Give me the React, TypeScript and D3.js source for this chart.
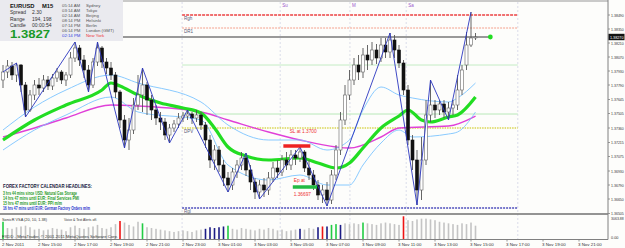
import React from 'react';
import * as d3 from 'd3';

// ---------- DATA ----------
const open = [
  1.3784,1.3792,1.3798,1.3789,1.3799,1.3779,1.3754,1.3769,1.3779,1.3776,
  1.3784,1.3778,1.3786,1.3792,1.3784,1.3789,1.3806,1.3816,1.3804,1.3794,
  1.3779,1.3802,1.3816,1.3802,1.3796,1.3789,1.3772,1.3744,1.3724,1.3734,
  1.3759,1.3769,1.3779,1.3764,1.3754,1.3746,1.3742,1.3729,1.3736,1.3740,
  1.3746,1.3748,1.3750,1.3746,1.3749,1.3739,1.3724,1.3704,1.3714,1.3699,
  1.3686,1.3679,1.3692,1.3699,1.3706,1.3694,1.3682,1.3672,1.3679,1.3674,
  1.3686,1.3696,1.3692,1.3704,1.3699,1.3709,1.3706,1.3712,1.3696,1.3689,
  1.3679,1.3669,1.3674,1.3664,1.3689,1.3714,1.3744,1.3769,1.3784,1.3799,
  1.3792,1.3809,1.3804,1.3814,1.3806,1.3819,1.3812,1.3824,1.3814,1.3801,
  1.3774,1.3724,1.3704,1.3674,1.3704,1.3749,1.3759,1.3754,1.3760,1.3752,
  1.3756,1.3759,1.3774,1.3799,1.3819,1.3826,
];
const close = [
  1.3792,1.3798,1.3789,1.3799,1.3779,1.3754,1.3769,1.3779,1.3776,1.3784,
  1.3778,1.3786,1.3792,1.3784,1.3789,1.3806,1.3816,1.3804,1.3794,1.3779,
  1.3802,1.3816,1.3802,1.3796,1.3789,1.3772,1.3744,1.3724,1.3734,1.3759,
  1.3769,1.3779,1.3764,1.3754,1.3746,1.3742,1.3729,1.3736,1.3740,1.3746,
  1.3748,1.3750,1.3746,1.3749,1.3739,1.3724,1.3704,1.3714,1.3699,1.3686,
  1.3679,1.3692,1.3699,1.3706,1.3694,1.3682,1.3672,1.3679,1.3674,1.3686,
  1.3696,1.3692,1.3704,1.3699,1.3709,1.3706,1.3712,1.3696,1.3689,1.3679,
  1.3669,1.3674,1.3664,1.3689,1.3714,1.3744,1.3769,1.3784,1.3799,1.3792,
  1.3809,1.3804,1.3814,1.3806,1.3819,1.3812,1.3824,1.3814,1.3801,1.3774,
  1.3724,1.3704,1.3674,1.3704,1.3749,1.3759,1.3754,1.3760,1.3752,1.3756,
  1.3759,1.3774,1.3794,1.3819,1.3826,1.3827,
];
const high = [
  1.3799,1.3804,1.3802,1.3801,1.3800,1.3782,1.3774,1.3784,1.3786,1.3789,
  1.3788,1.3790,1.3796,1.3794,1.3792,1.3812,1.3822,1.3819,1.3809,1.3799,
  1.3806,1.3822,1.3818,1.3806,1.3802,1.3792,1.3774,1.3749,1.3746,1.3766,
  1.3789,1.3796,1.3782,1.3769,1.3759,1.3752,1.3746,1.3740,1.3744,1.3751,
  1.3752,1.3754,1.3752,1.3754,1.3752,1.3742,1.3729,1.3719,1.3718,1.3704,
  1.3692,1.3696,1.3704,1.3712,1.3711,1.3699,1.3686,1.3684,1.3686,1.3692,
  1.3702,1.3704,1.3709,1.3712,1.3714,1.3714,1.3717,1.3714,1.3704,1.3694,
  1.3684,1.3679,1.3682,1.3694,1.3719,1.3752,1.3779,1.3794,1.3806,1.3809,
  1.3816,1.3819,1.3822,1.3820,1.3826,1.3826,1.3831,1.3829,1.3819,1.3804,
  1.3779,1.3729,1.3714,1.3727,1.3764,1.3784,1.3764,1.3764,1.3764,1.3762,
  1.3764,1.3789,1.3799,1.3832,1.3852,1.3831,
];
const low = [
  1.3776,1.3786,1.3784,1.3782,1.3772,1.3747,1.3752,1.3764,1.3769,1.3772,
  1.3774,1.3774,1.3782,1.3780,1.3778,1.3786,1.3802,1.3798,1.3786,1.3772,
  1.3776,1.3798,1.3796,1.3790,1.3784,1.3766,1.3736,1.3716,1.3714,1.3730,
  1.3754,1.3752,1.3749,1.3744,1.3739,1.3734,1.3724,1.3721,1.3732,1.3736,
  1.3742,1.3744,1.3740,1.3742,1.3734,1.3716,1.3696,1.3694,1.3692,1.3678,
  1.3672,1.3674,1.3686,1.3694,1.3688,1.3674,1.3665,1.3665,1.3667,1.3669,
  1.3682,1.3686,1.3688,1.3694,1.3694,1.3699,1.3702,1.3692,1.3684,1.3674,
  1.3664,1.3661,1.3658,1.3660,1.3684,1.3709,1.3739,1.3764,1.3779,1.3784,
  1.3786,1.3794,1.3799,1.3800,1.3802,1.3806,1.3806,1.3806,1.3796,1.3769,
  1.3719,1.3694,1.3659,1.3664,1.3699,1.3742,1.3746,1.3749,1.3746,1.3744,
  1.3749,1.3754,1.3769,1.3794,1.3817,1.3824,
];

const zigzagIdx = [0,3,5,16,19,21,27,31,37,41,50,54,57,66,72,86,92,95,99,104];
const zigzagVal = [1.3792,1.3801,1.3747,1.3822,1.3772,1.3822,1.3716,1.3796,1.3721,1.3754,1.3672,1.3711,1.3665,1.3717,1.3658,1.3831,1.3659,1.3784,1.3744,1.3852];

const maIdx = [0,7,14,22,24,26,30,35,40,44,47,50,54,59,66,70,74,77,80,84,88,90,93,95,99,101,105];
const maGreen = [1.3724,1.3744,1.3759,1.3774,1.3781,1.3778,1.3769,1.3761,1.3756,1.3751,1.3736,1.3717,1.3708,1.3704,1.3706,1.3701,1.3696,1.3701,1.3716,1.3736,1.3748,1.3754,1.3744,1.3742,1.3747,1.3749,1.3767];

const bandIdx = [0,7,14,24,30,44,50,59,66,72,77,80,84,88,91,99,101,105];
const bandUpper = [1.3734,1.3757,1.3774,1.3789,1.3781,1.3762,1.3739,1.3724,1.3724,1.3714,1.3724,1.3754,1.3777,1.3769,1.3766,1.3762,1.3766,1.3781];
const bandLower = [1.3714,1.3734,1.3749,1.3767,1.3752,1.3744,1.3699,1.3684,1.3689,1.3679,1.3679,1.3699,1.3721,1.3734,1.3727,1.3730,1.3732,1.3752];

const magIdx = [0,7,14,24,30,44,50,59,66,74,77,84,88,99,105];
const maMagenta = [1.3727,1.3736,1.3746,1.3759,1.3758,1.3752,1.3744,1.3732,1.3724,1.3717,1.3716,1.3727,1.3736,1.3738,1.3748];

const volume = [
  2200,1400,1300,1500,1600,1700,1500,1200,1300,1100,1200,1400,1300,1200,1000,1500,1700,1400,1300,1500,
  1600,1800,1400,1300,1500,1900,2300,2100,1800,1600,2200,2000,1500,1400,1300,1200,
  1100,1000,900,1000,1100,1000,900,1100,1200,1300,1500,1400,1500,1600,1700,1300,1200,1400,1300,1200,
  1100,1300,1200,1400,1300,1100,1200,1000,1100,1200,1300,1200,1400,1300,1500,
  1600,1600,1800,1900,1800,2000,1900,2000,1900,2100,2000,1900,1800,2000,2100,2000,1900,1800,2900,2400,
  2300,2500,2600,2600,2500,2400,2200,2100,2000,1900,1800,2000,1900,2100,1700,
];
// g = grey, n = navy, G = green, r = red
const volColor = [
  'G','g','g','g','g','g','g','g','g','g','g','g','g','g','g','g','g','g','g','g',
  'g','g','g','g','g','g','r','g','g','g','g','G','g','g','g','g',
  'g','g','g','g','g','g','g','g','g','n','n','n','n','n','G','g','g','g','g','g',
  'g','g','g','g','g','g','g','g','g','g','n','g','g','g','n',
  'r','n','G','G','n','g','g','g','g','G','g','g','g','g','g','g','g','g','r','g',
  'g','g','g','g','g','g','g','g','g','g','g','g','g','g','g',
];

const priceTicks = [1.38490,1.38350,1.38210,1.38070,1.37930,1.37790,1.37645,1.37505,1.37360,1.37215,1.37075,1.36930,1.36790,1.36650,1.36505];
const timeIdx = [0,8,16,24,32,40,48,56,64,72,80,88,96,104,112,120,128];
const timeLabels = ['2 Nov 2011','2 Nov 15:00','2 Nov 17:00','2 Nov 19:00','2 Nov 21:00','2 Nov 23:00','3 Nov 01:00','3 Nov 03:00','3 Nov 05:00','3 Nov 07:00','3 Nov 09:00','3 Nov 11:00','3 Nov 13:00','3 Nov 15:00','3 Nov 17:00','3 Nov 19:00','3 Nov 21:00'];

const separatorIdx = [39.8, 61.6, 77.1, 89.6, 114.4];
const separatorLabels = ['', 'Su', 'M', 'Sa', ''];

const levelRgh = 1.3849;
const levelDR1 = 1.3836;
const bid = 1.3827;
const levelGreenHi = 1.3799;
const levelGreenLo = 1.3750;
const levelDPV = 1.3736;
const levelRgl = 1.3656;
const slBar = 1.3718;
const epBar = 1.3677;

const clockTimes = ['05:14 AM','03:14 AM','02:14 AM','08:14 PM','07:14 PM','06:14 PM','02:14 PM'];
const clockCities = ['Sydney','Tokyo','Beijing','Helsinki','Berlin','London (GMT)','New York'];

const headlines = [
  '3 hrs 44 mins since USD: Natural Gas Storage',
  '14 hrs 47 mins until EUR: Final Services PMI',
  '15 hrs 47 mins until EUR: PPI m/m',
  '16 hrs 47 mins until EUR: German Factory Orders m/m',
];
const headlineColors = ['#1f9a1f','#1f9a1f','#1f9a1f','#2233cc'];
const headlineWidths = [74, 76, 59, 87];

const FONT = '"Liberation Sans", Arial, sans-serif';

export default function App() {
  const x = d3.scaleLinear().domain([0, 105]).range([3, 475.5]);
  const y = d3.scaleLinear().domain([1.3652, 1.3849]).range([212, 15]);
  const vy = d3.scaleLinear().domain([0, 3063.88]).range([239, 215]);

  const lineIdx = (idx: number[], vals: number[], curve = d3.curveMonotoneX) =>
    d3.line<number>().x((_, k) => x(idx[k])).y((v) => y(v)).curve(curve)(vals) || '';

  const zig = d3.line<number>().x((_, k) => x(zigzagIdx[k])).y((v) => y(v))(zigzagVal) || '';

  const volColors: Record<string, string> = { g: '#c4c4c4', n: '#1c1c86', G: '#22cc44', r: '#ee1414' };

  const lvlX0 = x(separatorIdx[0]);
  const lvlX1 = x(separatorIdx[4]);

  return (
    <svg width={625} height={248} style={{ position: 'absolute', left: 0, top: 0, background: '#fdfdfb' }} fontFamily={FONT}>
      <rect x={0} y={0} width={625} height={248} fill="#fdfdfb" />
      {/* top border */}
      <line x1={0} x2={608} y1={1} y2={1} stroke="#b8b8b8" strokeWidth={1.5} />

      {/* vertical separators */}
      {separatorIdx.map((s, k) => (
        <g key={'sep' + k}>
          <line x1={x(s)} x2={x(s)} y1={2} y2={239} stroke="#cdd0e2" strokeWidth={0.7} strokeDasharray="2,2" />
          {separatorLabels[k] && (
            <text x={x(s) + 2} y={7} fontSize={4.5} fill="#9955cc">{separatorLabels[k]}</text>
          )}
        </g>
      ))}

      {/* horizontal levels */}
      <line x1={lvlX0} x2={lvlX1} y1={y(levelRgh)} y2={y(levelRgh)} stroke="#f07070" strokeWidth={1.8} strokeDasharray="3,1" />
      <text x={lvlX0 + 2} y={y(levelRgh) + 4.5} fontSize={4.5} fill="#555577">Rgh</text>
      <line x1={lvlX0} x2={lvlX1} y1={y(levelDR1)} y2={y(levelDR1)} stroke="#f4a08c" strokeWidth={1} strokeDasharray="2,1" />
      <text x={lvlX0 + 2} y={y(levelDR1) + 4.5} fontSize={4.5} fill="#555577">DR1</text>
      <line x1={lvlX0} x2={lvlX1} y1={y(levelGreenHi)} y2={y(levelGreenHi)} stroke="#c4ecc4" strokeWidth={1} />
      <line x1={lvlX0} x2={lvlX1} y1={y(levelGreenLo)} y2={y(levelGreenLo)} stroke="#b8e8b8" strokeWidth={1} />
      <line x1={lvlX0} x2={lvlX1} y1={y(levelDPV)} y2={y(levelDPV)} stroke="#c8c400" strokeWidth={1.2} strokeDasharray="1.5,1" />
      <text x={lvlX0 + 2} y={y(levelDPV) + 4.5} fontSize={4.5} fill="#555577">DPV</text>
      <line x1={lvlX0} x2={lvlX1} y1={y(levelRgl)} y2={y(levelRgl)} stroke="#7a7acc" strokeWidth={1.8} strokeDasharray="2,1" />
      <text x={lvlX0 + 2} y={y(levelRgl) + 4.5} fontSize={4.5} fill="#555577">Rgl</text>

      {/* bid line */}
      <line x1={0} x2={x(108.3)} y1={y(bid)} y2={y(bid)} stroke="#999999" strokeWidth={2} />
      <circle cx={x(108.3)} cy={y(bid)} r={2.4} fill="#22dd22" />

      {/* indicator lines */}
      <path d={lineIdx(magIdx, maMagenta)} fill="none" stroke="#e040d8" strokeWidth={1.4} />
      <path d={lineIdx(bandIdx, bandUpper)} fill="none" stroke="#7cc4ff" strokeWidth={0.9} />
      <path d={lineIdx(bandIdx, bandLower)} fill="none" stroke="#7cc4ff" strokeWidth={0.9} />
      <path d={lineIdx(maIdx, maGreen)} fill="none" stroke="#22dd22" strokeWidth={3.2} />

      {/* candles */}
      {open.map((o, i) => {
        const c = close[i];
        const bull = c >= o;
        const top = y(Math.max(o, c));
        const bot = y(Math.min(o, c));
        return (
          <g key={'c' + i}>
            <line x1={x(i)} x2={x(i)} y1={y(high[i])} y2={y(low[i])} stroke="#555" strokeWidth={0.9} />
            <rect x={x(i) - 1.5} y={top} width={3} height={Math.max(0.8, bot - top)}
              fill={bull ? '#ffffff' : '#111111'} stroke={bull ? '#666' : '#111'} strokeWidth={0.6} />
          </g>
        );
      })}

      {/* zigzag */}
      <path d={zig} fill="none" stroke="#2a36c0" strokeWidth={0.9} />

      {/* SL / Ep markers */}
      <line x1={x(62.3)} x2={x(68.3)} y1={y(slBar)} y2={y(slBar)} stroke="#ee2222" strokeWidth={3.5} />
      <text x={x(63.7)} y={y(1.3733) + 2} fontSize={4.8} fill="#ee3333">SL at 1.3700</text>
      <line x1={x(64.4)} x2={x(69.8)} y1={y(epBar)} y2={y(epBar)} stroke="#22bb44" strokeWidth={3.5} />
      <text x={x(64.6)} y={y(1.3684) + 2} fontSize={4.8} fill="#ee3333">Ep at</text>
      <text x={x(64.6)} y={y(1.3670) + 2} fontSize={4.8} fill="#ee3333">1.36697</text>

      {/* info box */}
      <rect x={0} y={0} width={123} height={41} fill="#eaeaef" />
      <text x={10} y={7.5} fontSize={5.8} fontWeight="bold" fill="#111">EURUSD</text>
      <text x={42} y={7.5} fontSize={5.8} fontWeight="bold" fill="#111">M15</text>
      <text x={10} y={14} fontSize={5} fill="#333">Spread</text>
      <text x={32} y={14} fontSize={5} fill="#333">2.30</text>
      <text x={10} y={20.5} fontSize={5} fill="#333">Range</text>
      <text x={32} y={20.5} fontSize={5} fill="#333">194, 198</text>
      <text x={10} y={26.5} fontSize={5} fill="#333">Candle</text>
      <text x={32} y={26.5} fontSize={5} fill="#333">00:00:54</text>
      <text x={10} y={38.3} fontSize={11.5} fontWeight="bold" fill="#1a9a28" textLength={40} lengthAdjust="spacingAndGlyphs">1.3827</text>
      {clockTimes.map((t, k) => (
        <g key={'clk' + k}>
          <text x={62} y={6.8 + k * 5.05} fontSize={4.3} fill={k === 6 ? '#3344dd' : '#555'}>{t}</text>
          <text x={86} y={6.8 + k * 5.05} fontSize={4.3} fill={k === 6 ? '#ee3333' : '#555'}>{clockCities[k]}</text>
        </g>
      ))}

      {/* headlines */}
      <text x={3} y={188} fontSize={4.6} fontWeight="bold" fill="#1a1a40" textLength={89} lengthAdjust="spacingAndGlyphs">FOREX FACTORY CALENDAR HEADLINES:</text>
      {headlines.map((h, k) => (
        <text key={'hl' + k} x={3} y={195 + k * 5.15} fontSize={4.6} fontWeight="bold" fill={headlineColors[k]}
          textLength={headlineWidths[k]} lengthAdjust="spacingAndGlyphs">{h}</text>
      ))}

      {/* panel separator */}
      <line x1={0} x2={608} y1={214} y2={214} stroke="#707070" strokeWidth={1.6} />

      {/* volume bars */}
      {volume.map((v, i) => (
        <rect key={'v' + i} x={x(i) - 0.8} y={vy(v)} width={1.6} height={239 - vy(v)} fill={volColors[volColor[i]]} />
      ))}
      <text x={2} y={221} fontSize={4.4} fill="#333" textLength={45} lengthAdjust="spacingAndGlyphs">SonicR VSA (20, 10, 1.38)</text>
      <text x={64} y={221} fontSize={4.4} fill="#333" textLength={33} lengthAdjust="spacingAndGlyphs">Voice &amp; Text Alerts off.</text>
      <text x={2} y={238} fontSize={4.4} fill="#333" textLength={116} lengthAdjust="spacingAndGlyphs">FXDD - MetaTrader, © 2001-2011 MetaQuotes Software Corp.</text>

      {/* axes frame */}
      <line x1={608} x2={608} y1={0} y2={239.5} stroke="#808080" strokeWidth={1} />
      <line x1={0} x2={608} y1={239.5} y2={239.5} stroke="#808080" strokeWidth={1} />

      {/* price axis */}
      {priceTicks.map((p, k) => (
        <g key={'pt' + k}>
          <line x1={608} x2={610} y1={y(p)} y2={y(p)} stroke="#808080" strokeWidth={0.8} />
          <text x={611} y={y(p) + 1.5} fontSize={4} fill="#333" textLength={12.8} lengthAdjust="spacingAndGlyphs">{p.toFixed(5)}</text>
        </g>
      ))}
      <rect x={608.5} y={y(bid) - 3.2} width={16} height={6.4} fill="#111" />
      <text x={610} y={y(bid) + 1.5} fontSize={4.2} fill="#fff" textLength={13.5} lengthAdjust="spacingAndGlyphs">{bid.toFixed(5)}</text>
      <text x={611} y={219.5} fontSize={4} fill="#333" textLength={12.8} lengthAdjust="spacingAndGlyphs">3063.88</text>
      <text x={611} y={239} fontSize={4} fill="#333" textLength={7.5} lengthAdjust="spacingAndGlyphs">0.00</text>

      {/* time axis */}
      {timeIdx.map((t, k) => (
        <g key={'tt' + k}>
          <line x1={x(t)} x2={x(t)} y1={239.5} y2={241.5} stroke="#808080" strokeWidth={0.8} />
          <text x={x(t) - 1} y={246} fontSize={4.4} fill="#333">{timeLabels[k]}</text>
        </g>
      ))}
    </svg>
  );
}
